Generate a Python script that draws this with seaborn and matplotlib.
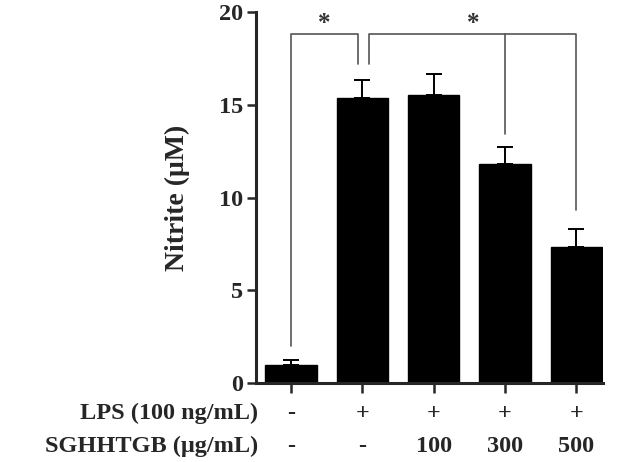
import matplotlib
matplotlib.use("Agg")
import matplotlib.pyplot as plt
import seaborn as sns
import pandas as pd

# values
groups = ["ctrl", "lps", "s100", "s300", "s500"]
nitrite = [0.95, 15.38, 15.52, 11.81, 7.33]
nitrite_err = [0.28, 0.96, 1.16, 0.90, 0.95]
lps_row = ["-", "+", "+", "+", "+"]
sgh_row = ["-", "-", "100", "300", "500"]
y_ticks = [0, 5, 10, 15, 20]

sns.set_style("ticks")
plt.rcParams["font.family"] = ["Liberation Serif", "DejaVu Serif"]
plt.rcParams["font.weight"] = "bold"

df = pd.DataFrame({"group": groups, "nitrite": nitrite})

fig = plt.figure(figsize=(6.17, 4.62), dpi=100)
ax = fig.add_axes([0.415, 0.171, 0.562, 0.803])

sns.barplot(data=df, x="group", y="nitrite", color="black", saturation=1,
            width=0.72, errorbar=None, ax=ax)
for p in ax.patches:
    p.set_edgecolor("black")
ax.errorbar(range(len(groups)), nitrite, yerr=[[0] * len(groups), nitrite_err],
            fmt="none", ecolor="black", elinewidth=1.4, capsize=6, capthick=1.4)

ax.set_ylim(0, 20)
ax.set_xlim(-0.49, 4.37)
ax.set_yticks(y_ticks)
ax.set_yticklabels([str(t) for t in y_ticks], fontsize=17.5, fontweight="bold")
ax.set_xticks(range(len(groups)))
ax.set_xticklabels([])
ax.set_xlabel("")
ax.set_ylabel("Nitrite (μM)", fontsize=20, fontweight="bold")
ax.yaxis.set_label_coords(-0.19, 0.5)
sns.despine(ax=ax)
for side in ["left", "bottom"]:
    ax.spines[side].set_linewidth(2.2)
ax.tick_params(axis="both", length=6.5, width=1.8, pad=3)
ax.tick_params(axis="x", length=7)

# condition rows under the axis
fs = 17.5
tr = ax.get_xaxis_transform()
for i in range(len(groups)):
    ax.text(i, -0.082, lps_row[i], transform=tr, ha="center", va="center",
            fontsize=fs, fontweight="bold")
    ax.text(i, -0.172, sgh_row[i], transform=tr, ha="center", va="center",
            fontsize=fs, fontweight="bold")
ax.text(0.006, -0.082, "LPS (100 ng/mL)", transform=ax.transAxes, ha="right",
        va="center", fontsize=fs, fontweight="bold")
ax.text(0.006, -0.172, "SGHHTGB (μg/mL)", transform=ax.transAxes, ha="right",
        va="center", fontsize=fs, fontweight="bold")

# significance brackets
bc = "#555555"
lw = 1.2
top = 18.8
ax.plot([0, 0, 0.94, 0.94], [2.0, top, top, 17.2], color=bc, lw=lw, clip_on=False)
ax.plot([1.1, 1.1, 4.0, 4.0], [17.2, top, top, 9.3], color=bc, lw=lw, clip_on=False)
ax.plot([3.0, 3.0], [top, 13.4], color=bc, lw=lw, clip_on=False)
ax.text(0.47, 19.4, "*", ha="center", va="center", fontsize=18, fontweight="bold", color="#333333")
ax.text(2.55, 19.4, "*", ha="center", va="center", fontsize=18, fontweight="bold", color="#333333")

plt.savefig("out.png", dpi=100)
plt.close()
